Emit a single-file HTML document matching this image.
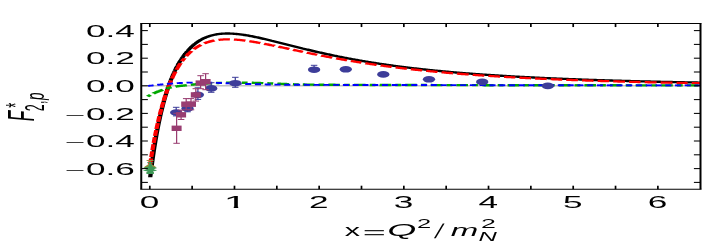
<!DOCTYPE html><html><head><meta charset="utf-8"><style>html,body{margin:0;padding:0;background:#fff}svg{display:block}</style></head><body><svg width="706" height="242" viewBox="0 0 706 242">
<rect width="706" height="242" fill="#fff"/>
<line x1="141.25" x2="700.5" y1="85.85" y2="85.85" stroke="#c2c2c2" stroke-width="1.5"/>
<g transform="scale(1.83,1)" fill="none" stroke-linejoin="round">
<path d="M82.09,177.27 L82.16,176.21 L82.23,175.16 L82.30,174.13 L82.37,173.10 L82.43,172.08 L82.50,171.08 L82.57,170.08 L82.64,169.09 L82.71,168.11 L82.78,167.13 L82.85,166.17 L82.92,165.22 L82.99,164.27 L83.05,163.33 L83.12,162.40 L83.19,161.48 L83.26,160.56 L83.33,159.66 L83.40,158.76 L83.47,157.87 L83.54,156.99 L83.61,156.11 L83.67,155.24 L83.74,154.38 L83.81,153.53 L83.88,152.68 L83.95,151.84 L84.02,151.01 L84.09,150.18 L84.16,149.37 L84.22,148.55 L84.29,147.75 L84.36,146.95 L84.43,146.16 L84.50,145.37 L84.57,144.59 L84.64,143.82 L84.71,143.05 L84.78,142.29 L84.84,141.54 L84.91,140.79 L84.98,140.05 L85.05,139.31 L85.12,138.58 L85.19,137.85 L85.26,137.14 L85.33,136.42 L85.40,135.71 L85.46,135.01 L85.53,134.31 L85.60,133.62 L85.67,132.93 L85.74,132.25 L85.81,131.58 L85.88,130.91 L85.95,130.24 L86.02,129.58 L86.08,128.92 L86.15,128.27 L86.22,127.63 L86.29,126.99 L86.36,126.35 L86.43,125.72 L86.50,125.09 L86.57,124.47 L86.64,123.85 L86.70,123.24 L86.77,122.63 L86.84,122.02 L86.91,121.43 L86.98,120.83 L87.05,120.24 L87.12,119.65 L87.19,119.07 L87.26,118.49 L87.32,117.92 L87.39,117.35 L87.46,116.78 L87.53,116.22 L87.60,115.66 L87.67,115.11 L87.74,114.56 L87.81,114.01 L87.87,113.47 L87.94,112.93 L88.01,112.40 L88.08,111.86 L88.15,111.34 L88.22,110.81 L88.29,110.29 L88.36,109.78 L88.43,109.26 L88.49,108.75 L88.56,108.25 L88.63,107.75 L88.70,107.25 L88.77,106.75 L88.84,106.26 L88.91,105.77 L88.98,105.29 L89.05,104.80 L89.11,104.33 L89.18,103.85 L89.25,103.38 L89.32,102.91 L89.39,102.44 L89.46,101.98 L89.53,101.52 L89.60,101.06 L89.67,100.61 L89.73,100.16 L89.80,99.71 L89.87,99.27 L89.94,98.83 L90.01,98.39 L90.08,97.95 L90.15,97.52 L90.22,97.09 L90.29,96.66 L90.35,96.24 L90.42,95.81 L90.49,95.39 L90.56,94.98 L90.63,94.56 L90.70,94.15 L90.77,93.75 L90.84,93.34 L90.90,92.94 L90.97,92.54 L91.04,92.14 L91.11,91.74 L91.18,91.35 L91.25,90.96 L91.32,90.57 L91.39,90.19 L91.46,89.81 L91.52,89.42 L91.59,89.05 L91.66,88.67 L91.73,88.30 L91.80,87.93 L91.87,87.56 L91.94,87.19 L92.01,86.83 L92.08,86.47 L92.14,86.11 L92.21,85.75 L92.28,85.40 L92.35,85.04 L92.42,84.69 L92.49,84.35 L92.56,84.00 L92.63,83.66 L92.70,83.31 L92.76,82.98 L92.83,82.64 L92.90,82.30 L92.97,81.97 L93.04,81.64 L93.11,81.31 L93.18,80.98 L93.25,80.66 L93.32,80.33 L93.38,80.01 L93.45,79.69 L93.52,79.38 L93.59,79.06 L93.66,78.75 L93.73,78.44 L93.80,78.13 L93.87,77.82 L93.93,77.51 L94.00,77.21 L94.07,76.91 L94.14,76.61 L94.21,76.31 L94.28,76.01 L94.35,75.72 L94.42,75.43 L94.49,75.14 L94.55,74.85 L94.62,74.56 L94.69,74.27 L94.76,73.99 L94.83,73.71 L94.90,73.43 L94.97,73.15 L95.04,72.87 L95.11,72.60 L95.17,72.32 L95.24,72.05 L95.31,71.78 L95.38,71.51 L95.45,71.24 L95.52,70.98 L95.59,70.71 L95.66,70.45 L95.73,70.19 L95.79,69.93 L95.86,69.67 L95.93,69.42 L96.00,69.16 L96.07,68.91 L96.14,68.66 L96.21,68.41 L96.28,68.16 L96.35,67.91 L96.41,67.66 L96.48,67.42 L96.55,67.18 L96.62,66.94 L96.69,66.70 L96.76,66.46 L96.83,66.22 L96.90,65.98 L96.96,65.75 L97.03,65.52 L97.10,65.29 L97.17,65.06 L97.24,64.83 L97.31,64.60 L97.38,64.37 L97.45,64.15 L97.52,63.93 L97.58,63.70 L97.65,63.48 L97.72,63.26 L97.79,63.05 L97.86,62.83 L97.93,62.61 L98.00,62.40 L98.07,62.19 L98.14,61.98 L98.20,61.77 L98.27,61.56 L98.34,61.35 L98.41,61.14 L98.48,60.94 L98.55,60.73 L98.62,60.53 L98.69,60.33 L98.76,60.13 L98.82,59.93 L98.89,59.73 L98.96,59.53 L99.03,59.34 L99.10,59.14 L99.17,58.95 L99.24,58.76 L99.31,58.57 L99.38,58.38 L99.44,58.19 L99.51,58.00 L99.58,57.81 L99.65,57.63 L99.72,57.44 L99.79,57.26 L99.86,57.08 L99.93,56.90 L100.00,56.72 L100.06,56.54 L100.13,56.36 L100.20,56.18 L100.27,56.01 L100.34,55.83 L100.41,55.66 L100.48,55.49 L100.55,55.31 L100.61,55.14 L100.68,54.97 L100.75,54.81 L100.82,54.64 L100.89,54.47 L100.96,54.31 L101.03,54.14 L101.10,53.98 L101.17,53.82 L101.23,53.66 L101.30,53.49 L101.37,53.34 L101.44,53.18 L101.51,53.02 L101.58,52.86 L101.65,52.71 L101.72,52.55 L101.79,52.40 L101.85,52.25 L101.92,52.09 L101.99,51.94 L102.06,51.79 L102.13,51.64 L102.20,51.49 L102.27,51.35 L102.34,51.20 L102.41,51.06 L102.47,50.91 L102.54,50.77 L102.61,50.62 L102.68,50.48 L102.75,50.34 L102.82,50.20 L102.89,50.06 L102.96,49.92 L103.03,49.78 L103.09,49.65 L103.16,49.51 L103.23,49.38 L103.30,49.24 L103.37,49.11 L103.44,48.98 L103.51,48.84 L103.58,48.71 L103.64,48.58 L103.71,48.45 L103.78,48.33 L103.85,48.20 L103.92,48.07 L103.99,47.94 L104.06,47.82 L104.13,47.69 L104.20,47.57 L104.26,47.45 L104.33,47.33 L104.40,47.20 L104.47,47.08 L104.54,46.96 L104.61,46.84 L104.68,46.73 L104.75,46.61 L104.82,46.49 L104.88,46.38 L104.95,46.26 L105.02,46.14 L105.09,46.03 L105.16,45.92 L105.23,45.81 L105.30,45.69 L105.37,45.58 L105.44,45.47 L105.50,45.36 L105.57,45.25 L105.64,45.15 L105.71,45.04 L105.78,44.93 L105.85,44.82 L105.92,44.72 L105.99,44.61 L106.06,44.51 L106.12,44.41 L106.19,44.30 L106.26,44.20 L106.33,44.10 L106.40,44.00 L106.47,43.90 L106.54,43.80 L106.61,43.70 L106.67,43.60 L106.74,43.51 L106.81,43.41 L106.88,43.31 L106.95,43.22 L107.02,43.12 L107.09,43.03 L107.16,42.94 L107.23,42.84 L107.29,42.75 L107.36,42.66 L107.43,42.57 L107.50,42.48 L107.57,42.39 L107.64,42.30 L107.71,42.21 L107.78,42.12 L107.85,42.04 L107.91,41.95 L107.98,41.86 L108.05,41.78 L108.12,41.69 L108.19,41.61 L108.26,41.52 L108.33,41.44 L108.40,41.36 L108.47,41.28 L108.53,41.19 L108.60,41.11 L108.67,41.03 L108.74,40.95 L108.81,40.87 L108.88,40.80 L108.95,40.72 L109.02,40.64 L109.09,40.56 L109.15,40.49 L109.22,40.41 L109.29,40.34 L109.36,40.26 L109.43,40.19 L109.50,40.11 L109.57,40.04 L110.11,39.48 L110.66,38.95 L111.21,38.45 L111.76,37.98 L112.30,37.54 L112.85,37.13 L113.40,36.75 L113.94,36.39 L114.49,36.06 L115.04,35.75 L115.59,35.47 L116.13,35.21 L116.68,34.97 L117.23,34.75 L117.77,34.55 L118.32,34.37 L118.87,34.21 L119.42,34.07 L119.96,33.95 L120.51,33.84 L121.06,33.75 L121.60,33.67 L122.15,33.61 L122.70,33.57 L123.25,33.53 L123.79,33.52 L124.34,33.51 L124.89,33.52 L125.43,33.54 L125.98,33.57 L126.53,33.61 L127.07,33.66 L127.62,33.73 L128.17,33.80 L128.72,33.88 L129.26,33.97 L129.81,34.08 L130.36,34.18 L130.90,34.30 L131.45,34.43 L132.00,34.56 L132.55,34.70 L133.09,34.84 L133.64,35.00 L134.19,35.15 L134.73,35.32 L135.28,35.49 L135.83,35.67 L136.38,35.85 L136.92,36.03 L137.47,36.22 L138.02,36.42 L138.56,36.62 L139.11,36.82 L139.66,37.03 L140.21,37.24 L140.75,37.45 L141.30,37.67 L141.85,37.89 L142.39,38.11 L142.94,38.34 L143.49,38.57 L144.04,38.80 L144.58,39.03 L145.13,39.27 L145.68,39.51 L146.22,39.74 L146.77,39.99 L147.32,40.23 L147.87,40.47 L148.41,40.72 L148.96,40.96 L149.51,41.21 L150.05,41.46 L150.60,41.71 L151.15,41.96 L151.70,42.21 L152.24,42.46 L152.79,42.71 L153.34,42.96 L153.88,43.22 L154.43,43.47 L154.98,43.72 L155.53,43.97 L156.07,44.23 L156.62,44.48 L157.17,44.73 L157.71,44.99 L158.26,45.24 L158.81,45.49 L159.35,45.74 L159.90,45.99 L160.45,46.24 L161.00,46.49 L161.54,46.74 L162.09,46.99 L162.64,47.24 L163.18,47.49 L163.73,47.74 L164.28,47.98 L164.83,48.23 L165.37,48.48 L165.92,48.72 L166.47,48.96 L167.01,49.20 L167.56,49.45 L168.11,49.69 L168.66,49.93 L169.20,50.16 L169.75,50.40 L170.30,50.64 L170.84,50.87 L171.39,51.11 L171.94,51.34 L172.49,51.57 L173.03,51.80 L173.58,52.03 L174.13,52.26 L174.67,52.49 L175.22,52.71 L175.77,52.94 L176.32,53.16 L176.86,53.38 L177.41,53.60 L177.96,53.82 L178.50,54.04 L179.05,54.26 L179.60,54.47 L180.15,54.69 L180.69,54.90 L181.24,55.11 L181.79,55.32 L182.33,55.53 L182.88,55.74 L183.43,55.95 L183.98,56.15 L184.52,56.36 L185.07,56.56 L185.62,56.76 L186.16,56.96 L186.71,57.16 L187.26,57.36 L187.81,57.55 L188.35,57.75 L188.90,57.94 L189.45,58.13 L189.99,58.32 L190.54,58.51 L191.09,58.70 L191.63,58.89 L192.18,59.08 L192.73,59.26 L193.28,59.44 L193.82,59.62 L194.37,59.80 L194.92,59.98 L195.46,60.16 L196.01,60.34 L196.56,60.51 L197.11,60.69 L197.65,60.86 L198.20,61.03 L198.75,61.20 L199.29,61.37 L199.84,61.54 L200.39,61.71 L200.94,61.87 L201.48,62.04 L202.03,62.20 L202.58,62.36 L203.12,62.52 L203.67,62.68 L204.22,62.84 L204.77,63.00 L205.31,63.15 L205.86,63.31 L206.41,63.46 L206.95,63.61 L207.50,63.76 L208.05,63.91 L208.60,64.06 L209.14,64.21 L209.69,64.36 L210.24,64.50 L210.78,64.65 L211.33,64.79 L211.88,64.93 L212.43,65.08 L212.97,65.22 L213.52,65.35 L214.07,65.49 L214.61,65.63 L215.16,65.77 L215.71,65.90 L216.26,66.04 L216.80,66.17 L217.35,66.30 L217.90,66.43 L218.44,66.56 L218.99,66.69 L219.54,66.82 L220.09,66.95 L220.63,67.07 L221.18,67.20 L221.73,67.32 L222.27,67.44 L222.82,67.57 L223.37,67.69 L223.91,67.81 L224.46,67.93 L225.01,68.05 L225.56,68.16 L226.10,68.28 L226.65,68.40 L227.20,68.51 L227.74,68.63 L228.29,68.74 L228.84,68.85 L229.39,68.96 L229.93,69.07 L230.48,69.18 L231.03,69.29 L231.57,69.40 L232.12,69.51 L232.67,69.62 L233.22,69.72 L233.76,69.83 L234.31,69.93 L234.86,70.04 L235.40,70.14 L235.95,70.24 L236.50,70.34 L237.05,70.44 L237.59,70.54 L238.14,70.64 L238.69,70.74 L239.23,70.84 L239.78,70.93 L240.33,71.03 L240.88,71.12 L241.42,71.22 L241.97,71.31 L242.52,71.41 L243.06,71.50 L243.61,71.59 L244.16,71.68 L244.71,71.77 L245.25,71.86 L245.80,71.95 L246.35,72.04 L246.89,72.13 L247.44,72.21 L247.99,72.30 L248.54,72.39 L249.08,72.47 L249.63,72.55 L250.18,72.64 L250.72,72.72 L251.27,72.80 L251.82,72.89 L252.37,72.97 L252.91,73.05 L253.46,73.13 L254.01,73.21 L254.55,73.29 L255.10,73.37 L255.65,73.45 L256.19,73.52 L256.74,73.60 L257.29,73.68 L257.84,73.75 L258.38,73.83 L258.93,73.90 L259.48,73.98 L260.02,74.05 L260.57,74.12 L261.12,74.19 L261.67,74.27 L262.21,74.34 L262.76,74.41 L263.31,74.48 L263.85,74.55 L264.40,74.62 L264.95,74.69 L265.50,74.76 L266.04,74.82 L266.59,74.89 L267.14,74.96 L267.68,75.03 L268.23,75.09 L268.78,75.16 L269.33,75.22 L269.87,75.29 L270.42,75.35 L270.97,75.41 L271.51,75.48 L272.06,75.54 L272.61,75.60 L273.16,75.67 L273.70,75.73 L274.25,75.79 L274.80,75.85 L275.34,75.91 L275.89,75.97 L276.44,76.03 L276.99,76.09 L277.53,76.15 L278.08,76.20 L278.63,76.26 L279.17,76.32 L279.72,76.38 L280.27,76.43 L280.82,76.49 L281.36,76.55 L281.91,76.60 L282.46,76.66 L283.00,76.71 L283.55,76.76 L284.10,76.82 L284.65,76.87 L285.19,76.93 L285.74,76.98 L286.29,77.03 L286.83,77.08 L287.38,77.13 L287.93,77.19 L288.47,77.24 L289.02,77.29 L289.57,77.34 L290.12,77.39 L290.66,77.44 L291.21,77.49 L291.76,77.54 L292.30,77.59 L292.85,77.63 L293.40,77.68 L293.95,77.73 L294.49,77.78 L295.04,77.82 L295.59,77.87 L296.13,77.92 L296.68,77.96 L297.23,78.01 L297.78,78.06 L298.32,78.10 L298.87,78.15 L299.42,78.19 L299.96,78.24 L300.51,78.28 L301.06,78.32 L301.61,78.37 L302.15,78.41 L302.70,78.45 L303.25,78.50 L303.79,78.54 L304.34,78.58 L304.89,78.62 L305.44,78.66 L305.98,78.70 L306.53,78.75 L307.08,78.79 L307.62,78.83 L308.17,78.87 L308.72,78.91 L309.27,78.95 L309.81,78.99 L310.36,79.03 L310.91,79.07 L311.45,79.10 L312.00,79.14 L312.55,79.18 L313.10,79.22 L313.64,79.26 L314.19,79.29 L314.74,79.33 L315.28,79.37 L315.83,79.41 L316.38,79.44 L316.93,79.48 L317.47,79.51 L318.02,79.55 L318.57,79.59 L319.11,79.62 L319.66,79.66 L320.21,79.69 L320.75,79.73 L321.30,79.76 L321.85,79.80 L322.40,79.83 L322.94,79.86 L323.49,79.90 L324.04,79.93 L324.58,79.96 L325.13,80.00 L325.68,80.03 L326.23,80.06 L326.77,80.10 L327.32,80.13 L327.87,80.16 L328.41,80.19 L328.96,80.22 L329.51,80.26 L330.06,80.29 L330.60,80.32 L331.15,80.35 L331.70,80.38 L332.24,80.41 L332.79,80.44 L333.34,80.47 L333.89,80.50 L334.43,80.53 L334.98,80.56 L335.53,80.59 L336.07,80.62 L336.62,80.65 L337.17,80.68 L337.72,80.71 L338.26,80.73 L338.81,80.76 L339.36,80.79 L339.90,80.82 L340.45,80.85 L341.00,80.88 L341.55,80.90 L342.09,80.93 L342.64,80.96 L343.19,80.98 L343.73,81.01 L344.28,81.04 L344.83,81.07 L345.38,81.09 L345.92,81.12 L346.47,81.14 L347.02,81.17 L347.56,81.20 L348.11,81.22 L348.66,81.25 L349.21,81.27 L349.75,81.30 L350.30,81.32 L350.85,81.35 L351.39,81.37 L351.94,81.40 L352.49,81.42 L353.03,81.45 L353.58,81.47 L354.13,81.50 L354.68,81.52 L355.22,81.54 L355.77,81.57 L356.32,81.59 L356.86,81.61 L357.41,81.64 L357.96,81.66 L358.51,81.68 L359.05,81.71 L359.60,81.73 L360.15,81.75 L360.69,81.78 L361.24,81.80 L361.79,81.82 L362.34,81.84 L362.88,81.86 L363.43,81.89 L363.98,81.91 L364.52,81.93 L365.07,81.95 L365.62,81.97 L366.17,81.99 L366.71,82.02 L367.26,82.04 L367.81,82.06 L368.35,82.08 L368.90,82.10 L369.45,82.12 L370.00,82.14 L370.54,82.16 L371.09,82.18 L371.64,82.20 L372.18,82.22 L372.73,82.24 L373.28,82.26 L373.83,82.28 L374.37,82.30 L374.92,82.32 L375.47,82.34 L376.01,82.36 L376.56,82.38 L377.11,82.40 L377.66,82.42 L378.20,82.43 L378.75,82.45 L379.30,82.47 L379.84,82.49 L380.39,82.51 L380.94,82.53 L381.48,82.55 L382.03,82.56 L382.58,82.58" stroke="#000" stroke-width="2.35"/>
<path d="M82.06,164.23 L82.13,163.46 L82.20,162.63 L82.26,161.80 L82.33,160.98 L82.40,160.16 L82.47,159.35 L82.54,158.55 L82.55,158.40" stroke="#ff0000" stroke-width="2.3"/>
<path d="M82.66,157.16 L82.68,156.96 L82.75,156.17 L82.82,155.39 L82.89,154.62 L82.96,153.85 L83.03,153.08 L83.09,152.33 L83.16,151.57 L83.19,151.33" stroke="#ff0000" stroke-width="2.3"/>
<path d="M83.30,150.09 L83.30,150.08 L83.37,149.34 L83.44,148.61 L83.51,147.89 L83.58,147.16 L83.65,146.45 L83.72,145.73 L83.79,145.03 L83.85,144.33 L83.86,144.26" stroke="#ff0000" stroke-width="2.3"/>
<path d="M83.98,143.02 L83.99,142.94 L84.06,142.25 L84.13,141.57 L84.20,140.89 L84.27,140.22 L84.34,139.55 L84.41,138.88 L84.48,138.22 L84.55,137.57 L84.59,137.20" stroke="#ff0000" stroke-width="2.3"/>
<path d="M84.72,135.96 L84.75,135.63 L84.82,134.99 L84.89,134.36 L84.96,133.73 L85.03,133.11 L85.10,132.49 L85.17,131.87 L85.24,131.26 L85.31,130.65 L85.36,130.14" stroke="#ff0000" stroke-width="2.3"/>
<path d="M85.51,128.90 L85.51,128.86 L85.58,128.26 L85.65,127.68 L85.72,127.09 L85.79,126.51 L85.86,125.94 L85.93,125.37 L86.00,124.80 L86.07,124.23 L86.14,123.67 L86.20,123.12 L86.21,123.09" stroke="#ff0000" stroke-width="2.3"/>
<path d="M86.36,121.85 L86.41,121.47 L86.48,120.93 L86.55,120.39 L86.62,119.85 L86.69,119.32 L86.76,118.79 L86.83,118.27 L86.90,117.75 L86.97,117.23 L87.03,116.71 L87.10,116.20 L87.12,116.05" stroke="#ff0000" stroke-width="2.3"/>
<path d="M87.29,114.81 L87.31,114.69 L87.38,114.19 L87.45,113.69 L87.52,113.20 L87.59,112.71 L87.66,112.23 L87.73,111.75 L87.79,111.27 L87.86,110.79 L87.93,110.32 L88.00,109.85 L88.07,109.38 L88.12,109.02" stroke="#ff0000" stroke-width="2.3"/>
<path d="M88.31,107.79 L88.35,107.54 L88.42,107.09 L88.49,106.64 L88.55,106.19 L88.62,105.75 L88.69,105.31 L88.76,104.87 L88.83,104.43 L88.90,104.00 L88.97,103.57 L89.04,103.14 L89.11,102.72 L89.18,102.30 L89.22,102.01" stroke="#ff0000" stroke-width="2.3"/>
<path d="M89.43,100.78 L89.45,100.63 L89.52,100.23 L89.59,99.82 L89.66,99.42 L89.73,99.01 L89.80,98.62 L89.87,98.22 L89.94,97.83 L90.01,97.43 L90.08,97.05 L90.14,96.66 L90.21,96.27 L90.28,95.89 L90.35,95.51 L90.42,95.14 L90.44,95.01" stroke="#ff0000" stroke-width="2.3"/>
<path d="M90.67,93.79 L90.70,93.65 L90.77,93.29 L90.84,92.92 L90.90,92.56 L90.97,92.20 L91.04,91.85 L91.11,91.49 L91.18,91.14 L91.25,90.79 L91.32,90.44 L91.39,90.10 L91.46,89.75 L91.53,89.41 L91.57,89.18" stroke="#ff0000" stroke-width="2.3"/>
<path d="M91.98,87.22 L92.01,87.08 L92.08,86.75 L92.15,86.43 L92.22,86.11 L92.29,85.79 L92.36,85.47 L92.43,85.16 L92.49,84.84 L92.56,84.53 L92.63,84.22 L92.70,83.91 L92.77,83.61 L92.84,83.30 L92.91,83.00 L92.98,82.70 L93.05,82.40 L93.12,82.10 L93.19,81.81 L93.25,81.52 L93.32,81.22 L93.39,80.93 L93.46,80.65 L93.53,80.37" stroke="#ff0000" stroke-width="2.3"/>
<path d="M94.01,78.43 L94.02,78.41 L94.08,78.13 L94.15,77.86 L94.22,77.59 L94.29,77.32 L94.36,77.06 L94.43,76.79 L94.50,76.53 L94.57,76.27 L94.64,76.01 L94.71,75.75 L94.78,75.49 L94.84,75.24 L94.91,74.99 L94.98,74.73 L95.05,74.48 L95.12,74.23 L95.19,73.99 L95.26,73.74 L95.33,73.50 L95.40,73.25 L95.47,73.01 L95.54,72.77 L95.60,72.53 L95.67,72.30 L95.74,72.06 L95.81,71.82 L95.86,71.66" stroke="#ff0000" stroke-width="2.3"/>
<path d="M96.44,69.74 L96.50,69.56 L96.57,69.34 L96.64,69.12 L96.71,68.90 L96.78,68.69 L96.85,68.47 L96.92,68.26 L96.99,68.05 L97.06,67.84 L97.13,67.63 L97.19,67.42 L97.26,67.21 L97.33,67.01 L97.40,66.81 L97.47,66.60 L97.54,66.40 L97.61,66.20 L97.68,66.00 L97.75,65.80 L97.82,65.61 L97.89,65.41 L97.96,65.22 L98.02,65.02 L98.09,64.83 L98.16,64.64 L98.23,64.45 L98.30,64.26 L98.37,64.08 L98.44,63.89 L98.51,63.70 L98.58,63.52 L98.65,63.34 L98.72,63.15 L98.72,63.13" stroke="#ff0000" stroke-width="2.3"/>
<path d="M99.46,61.27 L99.48,61.23 L99.54,61.06 L99.61,60.89 L99.68,60.72 L99.75,60.56 L99.82,60.39 L99.89,60.23 L99.96,60.07 L100.03,59.90 L100.10,59.74 L100.17,59.58 L100.24,59.42 L100.31,59.27 L100.37,59.11 L100.44,58.95 L100.51,58.80 L100.58,58.64 L100.65,58.49 L100.72,58.34 L100.79,58.19 L100.79,58.18" stroke="#ff0000" stroke-width="2.3"/>
<path d="M101.74,56.20 L101.76,56.17 L101.83,56.03 L101.89,55.89 L101.96,55.75 L102.03,55.62 L102.10,55.49 L102.17,55.35 L102.24,55.22 L102.31,55.09 L102.38,54.96 L102.45,54.83 L102.52,54.70 L102.59,54.57 L102.66,54.44 L102.72,54.31 L102.79,54.19 L102.86,54.06 L102.93,53.94 L103.00,53.81 L103.07,53.69 L103.14,53.57 L103.21,53.45 L103.28,53.33 L103.35,53.21 L103.42,53.09 L103.48,52.97 L103.55,52.85 L103.62,52.73 L103.69,52.62 L103.76,52.50 L103.83,52.39 L103.90,52.28 L103.97,52.16 L104.04,52.05 L104.11,51.94 L104.18,51.83 L104.24,51.72 L104.31,51.61 L104.38,51.50 L104.45,51.39 L104.52,51.28 L104.59,51.18 L104.66,51.07 L104.68,51.03" stroke="#ff0000" stroke-width="2.3"/>
<path d="M105.94,49.23 L105.97,49.18 L106.04,49.09 L106.11,49.00 L106.18,48.91 L106.25,48.82 L106.32,48.73 L106.39,48.64 L106.46,48.55 L106.53,48.46 L106.60,48.37 L106.66,48.28 L106.73,48.20 L106.80,48.11 L106.87,48.03 L106.94,47.94 L107.01,47.86 L107.08,47.77 L107.15,47.69 L107.22,47.61 L107.29,47.53 L107.36,47.44 L107.42,47.36 L107.49,47.28 L107.56,47.20 L107.63,47.12 L107.70,47.05 L107.77,46.97 L107.84,46.89 L107.91,46.81 L107.98,46.74 L108.05,46.66 L108.12,46.59 L108.18,46.51 L108.25,46.44 L108.32,46.36 L108.39,46.29 L108.46,46.22 L108.53,46.14 L108.60,46.07 L108.67,46.00 L108.74,45.93 L108.81,45.86 L108.88,45.79 L108.95,45.72 L109.01,45.65 L109.08,45.59 L109.15,45.52 L109.22,45.45 L109.29,45.38 L109.36,45.32 L109.43,45.25 L109.50,45.19 L109.57,45.12 L109.93,44.80" stroke="#ff0000" stroke-width="2.3"/>
<path d="M111.63,43.41 L111.76,43.32 L112.30,42.93 L112.85,42.57 L113.40,42.24 L113.94,41.92 L114.49,41.63 L115.04,41.36 L115.59,41.11 L116.13,40.88 L116.68,40.67 L117.23,40.48 L117.25,40.47" stroke="#ff0000" stroke-width="2.3"/>
<path d="M119.37,39.89 L119.42,39.88 L119.96,39.77 L120.51,39.68 L121.06,39.60 L121.60,39.53 L122.15,39.47 L122.70,39.43 L123.25,39.40 L123.79,39.38 L124.34,39.37 L124.89,39.37 L125.43,39.38 L125.62,39.39" stroke="#ff0000" stroke-width="2.3"/>
<path d="M127.82,39.55 L128.17,39.58 L128.72,39.65 L129.26,39.72 L129.81,39.80 L130.36,39.89 L130.90,39.98 L131.45,40.08 L132.00,40.19 L132.55,40.30 L133.09,40.42 L133.64,40.55 L134.12,40.66" stroke="#ff0000" stroke-width="2.3"/>
<path d="M136.25,41.21 L136.38,41.24 L136.92,41.39 L137.47,41.55 L138.02,41.71 L138.56,41.87 L139.11,42.04 L139.66,42.21 L140.21,42.38 L140.75,42.56 L141.30,42.74 L141.85,42.92 L142.24,43.05" stroke="#ff0000" stroke-width="2.3"/>
<path d="M144.32,43.77 L144.58,43.86 L145.13,44.05 L145.68,44.25 L146.22,44.45 L146.77,44.65 L147.32,44.85 L147.87,45.05 L148.41,45.26 L148.96,45.46 L149.51,45.67 L150.05,45.87 L150.06,45.88" stroke="#ff0000" stroke-width="2.3"/>
<path d="M152.12,46.66 L152.24,46.71 L152.79,46.92 L153.34,47.13 L153.88,47.34 L154.43,47.55 L154.98,47.77 L155.53,47.98 L156.07,48.19 L156.62,48.40 L157.17,48.62 L157.71,48.83 L158.10,48.98" stroke="#ff0000" stroke-width="2.3"/>
<path d="M160.15,49.78 L160.45,49.90 L161.00,50.11 L161.54,50.32 L162.09,50.53 L162.64,50.74 L163.18,50.95 L163.73,51.17 L164.28,51.38 L164.83,51.59 L165.37,51.79 L165.56,51.87" stroke="#ff0000" stroke-width="2.3"/>
<path d="M167.66,52.67 L168.11,52.83 L168.66,53.04 L169.20,53.24 L169.75,53.45 L170.30,53.65 L170.84,53.85 L171.39,54.06 L171.94,54.26 L172.49,54.46 L173.03,54.66 L173.37,54.78" stroke="#ff0000" stroke-width="2.3"/>
<path d="M175.49,55.54 L175.77,55.65 L176.32,55.84 L176.86,56.03 L177.41,56.23 L177.96,56.42 L178.50,56.61 L179.05,56.80 L179.60,56.99 L180.15,57.18 L180.69,57.37 L181.24,57.55 L181.56,57.66" stroke="#ff0000" stroke-width="2.3"/>
<path d="M183.69,58.38 L183.98,58.47 L184.52,58.65 L185.07,58.83 L185.62,59.01 L186.16,59.19 L186.71,59.36 L187.26,59.54 L187.81,59.71 L188.35,59.89 L188.90,60.06 L189.45,60.23 L189.64,60.29" stroke="#ff0000" stroke-width="2.3"/>
<path d="M191.79,60.95 L192.18,61.07 L192.73,61.24 L193.28,61.40 L193.82,61.57 L194.37,61.73 L194.92,61.89 L195.46,62.05 L196.01,62.21 L196.56,62.37 L197.11,62.53 L197.50,62.64" stroke="#ff0000" stroke-width="2.3"/>
<path d="M199.66,63.25 L199.84,63.30 L200.39,63.45 L200.94,63.60 L201.48,63.75 L202.03,63.90 L202.58,64.05 L203.12,64.19 L203.67,64.34 L204.22,64.48 L204.77,64.63 L205.31,64.77 L205.85,64.91" stroke="#ff0000" stroke-width="2.3"/>
<path d="M208.03,65.46 L208.05,65.47 L208.60,65.61 L209.14,65.74 L209.69,65.88 L210.24,66.01 L210.78,66.15 L211.33,66.28 L211.88,66.41 L212.43,66.54 L212.97,66.67 L213.52,66.80 L214.04,66.92" stroke="#ff0000" stroke-width="2.3"/>
<path d="M216.23,67.43 L216.26,67.43 L216.80,67.55 L217.35,67.68 L217.90,67.80 L218.44,67.92 L218.99,68.04 L219.54,68.16 L220.09,68.28 L220.63,68.40 L221.18,68.51 L221.73,68.63 L222.27,68.75 L222.34,68.76" stroke="#ff0000" stroke-width="2.3"/>
<path d="M224.54,69.22 L225.01,69.31 L225.56,69.42 L226.10,69.53 L226.65,69.64 L227.20,69.75 L227.74,69.86 L228.29,69.96 L228.84,70.07 L229.39,70.18 L229.93,70.28 L230.48,70.38 L230.70,70.42" stroke="#ff0000" stroke-width="2.3"/>
<path d="M232.91,70.84 L233.22,70.89 L233.76,70.99 L234.31,71.09 L234.86,71.19 L235.40,71.29 L235.95,71.38 L236.50,71.48 L237.05,71.58 L237.59,71.67 L238.14,71.76 L238.69,71.86 L239.11,71.93" stroke="#ff0000" stroke-width="2.3"/>
<path d="M241.33,72.30 L241.42,72.31 L241.97,72.40 L242.52,72.49 L243.06,72.58 L243.61,72.67 L244.16,72.76 L244.71,72.84 L245.25,72.93 L245.80,73.01 L246.35,73.10 L246.89,73.18 L247.44,73.27 L247.47,73.27" stroke="#ff0000" stroke-width="2.3"/>
<path d="M249.69,73.60 L250.18,73.67 L250.72,73.75 L251.27,73.83 L251.82,73.91 L252.37,73.99 L252.91,74.07 L253.46,74.15 L254.01,74.22 L254.55,74.30 L255.10,74.37 L255.65,74.45 L256.10,74.51" stroke="#ff0000" stroke-width="2.3"/>
<path d="M258.33,74.81 L258.38,74.82 L258.93,74.89 L259.48,74.96 L260.02,75.03 L260.57,75.10 L261.12,75.17 L261.67,75.24 L262.21,75.31 L262.76,75.38 L263.31,75.45 L263.85,75.52 L264.40,75.58 L264.68,75.62" stroke="#ff0000" stroke-width="2.3"/>
<path d="M266.91,75.88 L267.14,75.91 L267.68,75.98 L268.23,76.04 L268.78,76.10 L269.33,76.17 L269.87,76.23 L270.42,76.29 L270.97,76.35 L271.51,76.41 L272.06,76.48 L272.61,76.54 L273.16,76.60 L273.20,76.60" stroke="#ff0000" stroke-width="2.3"/>
<path d="M275.44,76.84 L275.89,76.89 L276.44,76.95 L276.99,77.01 L277.53,77.06 L278.08,77.12 L278.63,77.17 L279.17,77.23 L279.72,77.29 L280.27,77.34 L280.82,77.40 L281.36,77.45 L281.61,77.47" stroke="#ff0000" stroke-width="2.3"/>
<path d="M283.85,77.69 L284.10,77.72 L284.65,77.77 L285.19,77.82 L285.74,77.87 L286.29,77.92 L286.83,77.97 L287.38,78.02 L287.93,78.07 L288.47,78.12 L289.02,78.17 L289.57,78.22 L290.12,78.27 L290.14,78.27" stroke="#ff0000" stroke-width="2.3"/>
<path d="M292.38,78.47 L292.85,78.51 L293.40,78.55 L293.95,78.60 L294.49,78.65 L295.04,78.69 L295.59,78.74 L296.13,78.78 L296.68,78.83 L297.23,78.87 L297.78,78.92 L298.32,78.96 L298.71,78.99" stroke="#ff0000" stroke-width="2.3"/>
<path d="M300.96,79.17 L301.06,79.18 L301.61,79.22 L302.15,79.26 L302.70,79.30 L303.25,79.34 L303.79,79.39 L304.34,79.43 L304.89,79.47 L305.44,79.51 L305.98,79.55 L306.53,79.59 L307.08,79.63 L307.24,79.64" stroke="#ff0000" stroke-width="2.3"/>
<path d="M309.48,79.80 L309.81,79.82 L310.36,79.86 L310.91,79.90 L311.45,79.93 L312.00,79.97 L312.55,80.01 L313.10,80.04 L313.64,80.08 L314.19,80.12 L314.74,80.15 L315.28,80.19 L315.82,80.22" stroke="#ff0000" stroke-width="2.3"/>
<path d="M318.06,80.37 L318.57,80.40 L319.11,80.43 L319.66,80.47 L320.21,80.50 L320.75,80.54 L321.30,80.57 L321.85,80.60 L322.40,80.64 L322.94,80.67 L323.49,80.70 L324.04,80.73 L324.34,80.75" stroke="#ff0000" stroke-width="2.3"/>
<path d="M326.59,80.88 L326.77,80.89 L327.32,80.92 L327.87,80.95 L328.41,80.98 L328.96,81.02 L329.51,81.05 L330.06,81.08 L330.60,81.11 L331.15,81.14 L331.70,81.17 L332.24,81.19 L332.79,81.22 L332.87,81.23" stroke="#ff0000" stroke-width="2.3"/>
<path d="M335.11,81.35 L335.53,81.37 L336.07,81.40 L336.62,81.42 L337.17,81.45 L337.72,81.48 L338.26,81.51 L338.81,81.53 L339.36,81.56 L339.90,81.59 L340.45,81.61 L341.00,81.64 L341.55,81.67 L341.55,81.67" stroke="#ff0000" stroke-width="2.3"/>
<path d="M343.80,81.77 L344.28,81.80 L344.83,81.82 L345.38,81.85 L345.92,81.87 L346.47,81.90 L347.02,81.92 L347.56,81.95 L348.11,81.97 L348.66,82.00 L349.21,82.02 L349.75,82.04 L350.02,82.06" stroke="#ff0000" stroke-width="2.3"/>
<path d="M352.27,82.15 L352.49,82.16 L353.03,82.19 L353.58,82.21 L354.13,82.23 L354.68,82.25 L355.22,82.28 L355.77,82.30 L356.32,82.32 L356.86,82.34 L357.41,82.37 L357.96,82.39 L358.51,82.41 L358.77,82.42" stroke="#ff0000" stroke-width="2.3"/>
<path d="M361.01,82.51 L361.24,82.52 L361.79,82.54 L362.34,82.56 L362.88,82.58 L363.43,82.60 L363.98,82.62 L364.52,82.64 L365.07,82.66 L365.62,82.68 L366.17,82.70 L366.71,82.72 L367.26,82.74 L367.45,82.75" stroke="#ff0000" stroke-width="2.3"/>
<path d="M369.70,82.83 L370.00,82.84 L370.54,82.86 L371.09,82.88 L371.64,82.90 L372.18,82.92 L372.73,82.93 L373.28,82.95 L373.83,82.97 L374.37,82.99 L374.92,83.01 L375.47,83.03 L375.76,83.04" stroke="#ff0000" stroke-width="2.3"/>
<path d="M378.01,83.11 L378.20,83.11 L378.75,83.13 L379.30,83.15 L379.84,83.17 L380.39,83.18 L380.94,83.20 L381.48,83.22 L382.03,83.23 L382.58,83.25" stroke="#ff0000" stroke-width="2.3"/>
<path d="M80.66,96.50 L80.89,96.25 L81.13,96.00 L81.37,95.76 L81.61,95.52 L81.85,95.28 L82.10,95.04 L82.19,94.96" stroke="#00a800" stroke-width="2.4"/>
<path d="M83.86,93.47 L83.87,93.45 L84.13,93.24 L84.39,93.02 L84.65,92.81 L84.92,92.60 L85.18,92.39 L85.45,92.18 L85.72,91.98 L86.00,91.78 L86.27,91.59 L86.55,91.39 L86.83,91.20 L87.12,91.02 L87.40,90.83 L87.69,90.64 L87.98,90.46 L88.26,90.28 L88.55,90.10 L88.84,89.92 L89.02,89.80" stroke="#00a800" stroke-width="2.4"/>
<path d="M90.90,88.59 L91.14,88.44 L91.44,88.27 L91.73,88.10 L92.03,87.94 L92.33,87.78 L92.63,87.64 L92.94,87.51 L93.25,87.39 L93.57,87.27 L93.75,87.21" stroke="#00a800" stroke-width="2.4"/>
<path d="M95.89,86.55 L96.18,86.47 L96.51,86.38 L96.83,86.30 L97.16,86.22 L97.49,86.14 L97.82,86.07 L98.15,85.99 L98.49,85.92 L98.82,85.86 L99.15,85.79 L99.49,85.73 L99.82,85.66 L100.16,85.60 L100.49,85.54 L100.82,85.47 L101.16,85.41 L101.49,85.35 L101.83,85.28 L102.09,85.23" stroke="#00a800" stroke-width="2.4"/>
<path d="M104.28,84.78 L104.49,84.73 L104.82,84.67 L105.16,84.60 L105.49,84.54 L105.82,84.48 L106.16,84.42 L106.49,84.37 L106.83,84.31 L107.16,84.26 L107.40,84.22" stroke="#00a800" stroke-width="2.4"/>
<path d="M109.61,83.89 L109.85,83.86 L110.19,83.81 L110.53,83.77 L110.86,83.72 L111.20,83.68 L111.54,83.64 L111.88,83.59 L112.21,83.55 L112.55,83.52 L112.89,83.48 L113.23,83.44 L113.56,83.41 L113.90,83.38 L114.24,83.34 L114.58,83.31 L114.92,83.29 L115.25,83.26 L115.59,83.23 L115.92,83.20" stroke="#00a800" stroke-width="2.4"/>
<path d="M118.15,83.03 L118.30,83.02 L118.64,83.00 L118.98,82.97 L119.32,82.95 L119.66,82.93 L120.00,82.91 L120.34,82.89 L120.68,82.88 L121.02,82.86 L121.31,82.85" stroke="#00a800" stroke-width="2.4"/>
<path d="M123.55,82.79 L123.73,82.79 L124.07,82.78 L124.41,82.78 L124.75,82.77 L125.09,82.77 L125.43,82.76 L125.77,82.76 L126.11,82.75 L126.45,82.75 L126.79,82.75 L127.13,82.74 L127.47,82.74 L127.81,82.73 L128.15,82.73 L128.49,82.73 L128.83,82.72 L129.17,82.72 L129.51,82.72 L129.85,82.72 L129.89,82.72" stroke="#00a800" stroke-width="2.4"/>
<path d="M132.13,82.70 L132.23,82.70 L132.57,82.70 L132.91,82.70 L133.24,82.70 L133.58,82.70 L133.92,82.70 L134.26,82.70 L134.60,82.70 L134.94,82.71 L135.28,82.71 L135.30,82.71" stroke="#00a800" stroke-width="2.4"/>
<path d="M137.54,82.78 L137.66,82.79 L138.00,82.80 L138.34,82.82 L138.68,82.84 L139.02,82.86 L139.35,82.87 L139.69,82.89 L140.03,82.91 L140.37,82.93 L140.71,82.95 L141.05,82.97 L141.39,82.99 L141.73,83.01 L142.07,83.03 L142.41,83.06 L142.75,83.08 L143.09,83.10 L143.43,83.12 L143.77,83.14 L143.87,83.15" stroke="#00a800" stroke-width="2.4"/>
<path d="M146.10,83.28 L146.14,83.28 L146.48,83.30 L146.82,83.33 L147.15,83.35 L147.49,83.37 L147.83,83.40 L148.17,83.42 L148.51,83.45 L148.85,83.48 L149.19,83.50 L149.27,83.51" stroke="#00a800" stroke-width="2.4"/>
<path d="M151.50,83.68 L151.56,83.69 L151.90,83.72 L152.24,83.74 L152.57,83.77 L152.91,83.79 L153.25,83.82 L153.59,83.85 L153.93,83.87 L154.27,83.90 L154.61,83.92 L154.95,83.95 L155.28,83.97 L155.62,83.99 L155.96,84.01 L156.30,84.04 L156.64,84.06 L156.98,84.09 L157.32,84.11 L157.66,84.13 L157.82,84.15" stroke="#00a800" stroke-width="2.4"/>
<path d="M160.06,84.30 L160.37,84.32 L160.71,84.34 L161.05,84.36 L161.39,84.39 L161.73,84.40 L162.06,84.42 L162.40,84.44 L162.74,84.46 L163.08,84.47 L163.22,84.48" stroke="#00a800" stroke-width="2.4"/>
<path d="M165.46,84.54 L165.80,84.55 L166.14,84.56 L166.48,84.57 L166.82,84.58 L167.15,84.59 L167.49,84.60 L167.83,84.60 L168.17,84.61 L168.51,84.62 L168.85,84.63 L169.19,84.64 L169.53,84.64 L169.87,84.65 L170.21,84.66 L170.55,84.66 L170.89,84.67 L171.23,84.68 L171.57,84.68 L171.80,84.69" stroke="#00a800" stroke-width="2.4"/>
<path d="M174.04,84.72 L174.29,84.73 L174.63,84.73 L174.97,84.74 L175.31,84.74 L175.65,84.75 L175.99,84.75 L176.33,84.76 L176.67,84.76 L177.01,84.77 L177.21,84.77" stroke="#00a800" stroke-width="2.4"/>
<path d="M179.45,84.79 L179.72,84.79 L180.06,84.80 L180.40,84.80 L180.74,84.80 L181.08,84.81 L181.42,84.81 L181.76,84.81 L182.10,84.82 L182.44,84.82 L182.78,84.82 L183.12,84.82 L183.46,84.83 L183.80,84.83 L184.14,84.83 L184.48,84.83 L184.82,84.84 L185.16,84.84 L185.50,84.84 L185.79,84.84" stroke="#00a800" stroke-width="2.4"/>
<path d="M188.03,84.86 L188.21,84.86 L188.55,84.86 L188.89,84.86 L189.23,84.87 L189.57,84.87 L189.91,84.87 L190.25,84.87 L190.59,84.87 L190.93,84.88 L191.20,84.88" stroke="#00a800" stroke-width="2.4"/>
<path d="M193.44,84.89 L193.65,84.89 L193.99,84.89 L194.33,84.90 L194.67,84.90 L195.01,84.90 L195.35,84.90 L195.69,84.90 L196.03,84.90 L196.37,84.91 L196.71,84.91 L197.05,84.91 L197.39,84.91 L197.73,84.91 L198.07,84.91 L198.40,84.92 L198.74,84.92 L199.08,84.92 L199.42,84.92 L199.76,84.92 L199.77,84.92" stroke="#00a800" stroke-width="2.4"/>
<path d="M202.01,84.93 L202.14,84.93 L202.48,84.93 L202.82,84.94 L203.16,84.94 L203.50,84.94 L203.84,84.94 L204.18,84.94 L204.52,84.94 L204.86,84.94 L205.18,84.95" stroke="#00a800" stroke-width="2.4"/>
<path d="M207.42,84.95 L207.58,84.96 L207.92,84.96 L208.26,84.96 L208.60,84.96 L208.94,84.96 L209.27,84.96 L209.61,84.96 L209.95,84.96 L210.29,84.97 L210.63,84.97 L210.97,84.97 L211.31,84.97 L211.65,84.97 L211.99,84.97 L212.33,84.97 L212.67,84.98 L213.01,84.98 L213.35,84.98 L213.69,84.98 L213.76,84.98" stroke="#00a800" stroke-width="2.4"/>
<path d="M216.00,84.99 L216.07,84.99 L216.41,84.99 L216.75,84.99 L217.09,84.99 L217.43,85.00 L217.77,85.00 L218.11,85.00 L218.45,85.00 L218.79,85.00 L219.13,85.00 L219.17,85.00" stroke="#00a800" stroke-width="2.4"/>
<path d="M221.41,85.01 L221.50,85.01 L221.84,85.01 L222.18,85.02 L222.52,85.02 L222.86,85.02 L223.20,85.02 L223.54,85.02 L223.88,85.02 L224.22,85.02 L224.56,85.03 L224.90,85.03 L225.24,85.03 L225.58,85.03 L225.92,85.03 L226.26,85.03 L226.60,85.03 L226.94,85.04 L227.28,85.04 L227.62,85.04 L227.75,85.04" stroke="#00a800" stroke-width="2.4"/>
<path d="M229.99,85.05 L230.00,85.05 L230.34,85.05 L230.67,85.05 L231.01,85.05 L231.35,85.05 L231.69,85.06 L232.03,85.06 L232.37,85.06 L232.71,85.06 L233.05,85.06 L233.16,85.06" stroke="#00a800" stroke-width="2.4"/>
<path d="M235.40,85.07 L235.43,85.07 L235.77,85.07 L236.11,85.07 L236.45,85.08 L236.79,85.08 L237.13,85.08 L237.47,85.08 L237.81,85.08 L238.15,85.08 L238.49,85.08 L238.83,85.09 L239.17,85.09 L239.51,85.09 L239.85,85.09 L240.19,85.09 L240.53,85.09 L240.87,85.09 L241.20,85.09 L241.54,85.10 L241.74,85.10" stroke="#00a800" stroke-width="2.4"/>
<path d="M243.98,85.11 L244.26,85.11 L244.60,85.11 L244.94,85.11 L245.28,85.11 L245.62,85.11 L245.96,85.11 L246.30,85.11 L246.64,85.12 L246.98,85.12 L247.15,85.12" stroke="#00a800" stroke-width="2.4"/>
<path d="M249.39,85.13 L249.70,85.13 L250.04,85.13 L250.38,85.13 L250.72,85.13 L251.06,85.13 L251.40,85.13 L251.74,85.13 L252.07,85.14 L252.41,85.14 L252.75,85.14 L253.09,85.14 L253.43,85.14 L253.77,85.14 L254.11,85.14 L254.45,85.14 L254.79,85.15 L255.13,85.15 L255.47,85.15 L255.73,85.15" stroke="#00a800" stroke-width="2.4"/>
<path d="M257.97,85.16 L258.19,85.16 L258.53,85.16 L258.87,85.16 L259.21,85.16 L259.55,85.16 L259.89,85.16 L260.23,85.16 L260.57,85.16 L260.91,85.17 L261.14,85.17" stroke="#00a800" stroke-width="2.4"/>
<path d="M263.38,85.17 L263.62,85.17 L263.96,85.17 L264.30,85.18 L264.64,85.18 L264.98,85.18 L265.32,85.18 L265.66,85.18 L266.00,85.18 L266.34,85.18 L266.68,85.18 L267.02,85.18 L267.36,85.18 L267.70,85.19 L268.04,85.19 L268.38,85.19 L268.72,85.19 L269.06,85.19 L269.40,85.19 L269.72,85.19" stroke="#00a800" stroke-width="2.4"/>
<path d="M271.96,85.20 L272.12,85.20 L272.46,85.20 L272.80,85.20 L273.14,85.20 L273.47,85.20 L273.81,85.20 L274.15,85.20 L274.49,85.20 L274.83,85.20 L275.13,85.20" stroke="#00a800" stroke-width="2.4"/>
<path d="M277.37,85.21 L277.55,85.21 L277.89,85.21 L278.23,85.21 L278.57,85.21 L278.91,85.21 L279.25,85.21 L279.59,85.21 L279.93,85.22 L280.27,85.22 L280.61,85.22 L280.95,85.22 L281.29,85.22 L281.63,85.22 L281.97,85.22 L282.31,85.22 L282.65,85.22 L282.99,85.22 L283.33,85.22 L283.67,85.22 L283.71,85.22" stroke="#00a800" stroke-width="2.4"/>
<path d="M285.95,85.23 L286.04,85.23 L286.38,85.23 L286.72,85.23 L287.06,85.23 L287.40,85.23 L287.74,85.23 L288.08,85.23 L288.42,85.23 L288.76,85.23 L289.10,85.23 L289.12,85.23" stroke="#00a800" stroke-width="2.4"/>
<path d="M291.36,85.24 L291.48,85.24 L291.82,85.24 L292.16,85.24 L292.50,85.24 L292.84,85.24 L293.18,85.24 L293.52,85.24 L293.86,85.24 L294.20,85.24 L294.54,85.24 L294.88,85.24 L295.21,85.25 L295.55,85.25 L295.89,85.25 L296.23,85.25 L296.57,85.25 L296.91,85.25 L297.25,85.25 L297.59,85.25 L297.70,85.25" stroke="#00a800" stroke-width="2.4"/>
<path d="M299.94,85.25 L299.97,85.25 L300.31,85.25 L300.65,85.25 L300.99,85.25 L301.33,85.26 L301.67,85.26 L302.01,85.26 L302.35,85.26 L302.69,85.26 L303.03,85.26 L303.11,85.26" stroke="#00a800" stroke-width="2.4"/>
<path d="M305.35,85.26 L305.41,85.26 L305.74,85.26 L306.08,85.26 L306.42,85.26 L306.76,85.26 L307.10,85.26 L307.44,85.27 L307.78,85.27 L308.12,85.27 L308.46,85.27 L308.80,85.27 L309.14,85.27 L309.48,85.27 L309.82,85.27 L310.16,85.27 L310.50,85.27 L310.84,85.27 L311.18,85.27 L311.52,85.27 L311.69,85.27" stroke="#00a800" stroke-width="2.4"/>
<path d="M313.93,85.28 L314.24,85.28 L314.58,85.28 L314.92,85.28 L315.26,85.28 L315.60,85.28 L315.94,85.28 L316.28,85.28 L316.61,85.28 L316.95,85.28 L317.10,85.28" stroke="#00a800" stroke-width="2.4"/>
<path d="M319.34,85.29 L319.67,85.29 L320.01,85.29 L320.35,85.29 L320.69,85.29 L321.03,85.29 L321.37,85.29 L321.71,85.29 L322.05,85.29 L322.39,85.29 L322.73,85.29 L323.07,85.29 L323.41,85.29 L323.75,85.29 L324.09,85.29 L324.43,85.29 L324.77,85.29 L325.11,85.30 L325.45,85.30 L325.68,85.30" stroke="#00a800" stroke-width="2.4"/>
<path d="M327.92,85.30 L328.16,85.30 L328.50,85.30 L328.84,85.30 L329.18,85.30 L329.52,85.30 L329.86,85.30 L330.20,85.30 L330.54,85.30 L330.88,85.31 L331.08,85.31" stroke="#00a800" stroke-width="2.4"/>
<path d="M333.33,85.31 L333.60,85.31 L333.94,85.31 L334.28,85.31 L334.62,85.31 L334.96,85.31 L335.30,85.31 L335.64,85.31 L335.98,85.31 L336.32,85.32 L336.66,85.32 L337.00,85.32 L337.34,85.32 L337.68,85.32 L338.01,85.32 L338.35,85.32 L338.69,85.32 L339.03,85.32 L339.37,85.32 L339.66,85.32" stroke="#00a800" stroke-width="2.4"/>
<path d="M341.90,85.33 L342.09,85.33 L342.43,85.33 L342.77,85.33 L343.11,85.33 L343.45,85.33 L343.79,85.33 L344.13,85.33 L344.47,85.33 L344.81,85.33 L345.07,85.33" stroke="#00a800" stroke-width="2.4"/>
<path d="M347.31,85.34 L347.53,85.34 L347.87,85.34 L348.21,85.34 L348.55,85.34 L348.88,85.34 L349.22,85.34 L349.56,85.34 L349.90,85.34 L350.24,85.34 L350.58,85.34 L350.92,85.34 L351.26,85.34 L351.60,85.34 L351.94,85.34 L352.28,85.34 L352.62,85.35 L352.96,85.35 L353.30,85.35 L353.64,85.35 L353.65,85.35" stroke="#00a800" stroke-width="2.4"/>
<path d="M355.89,85.35 L356.02,85.35 L356.36,85.35 L356.70,85.35 L357.04,85.35 L357.38,85.35 L357.72,85.35 L358.06,85.36 L358.40,85.36 L358.74,85.36 L359.06,85.36" stroke="#00a800" stroke-width="2.4"/>
<path d="M361.30,85.36 L361.45,85.36 L361.79,85.36 L362.13,85.36 L362.47,85.36 L362.81,85.36 L363.15,85.36 L363.49,85.37 L363.83,85.37 L364.17,85.37 L364.51,85.37 L364.85,85.37 L365.19,85.37 L365.53,85.37 L365.87,85.37 L366.21,85.37 L366.55,85.37 L366.89,85.37 L367.23,85.37 L367.57,85.37 L367.64,85.37" stroke="#00a800" stroke-width="2.4"/>
<path d="M369.88,85.38 L369.95,85.38 L370.29,85.38 L370.62,85.38 L370.96,85.38 L371.30,85.38 L371.64,85.38 L371.98,85.38 L372.32,85.38 L372.66,85.38 L373.00,85.38 L373.05,85.38" stroke="#00a800" stroke-width="2.4"/>
<path d="M375.29,85.39 L375.38,85.39 L375.72,85.39 L376.06,85.39 L376.40,85.39 L376.74,85.39 L377.08,85.39 L377.42,85.39 L377.76,85.39 L378.10,85.39 L378.44,85.39 L378.78,85.39 L379.12,85.39 L379.46,85.39 L379.80,85.40 L380.14,85.40 L380.48,85.40 L380.82,85.40 L381.15,85.40 L381.49,85.40 L381.63,85.40" stroke="#00a800" stroke-width="2.4"/>
<path d="M80.87,85.90 L81.31,85.86 L81.74,85.76 L82.18,85.67 L82.61,85.57 L83.05,85.48 L83.48,85.38 L83.92,85.29" stroke="#0000ff" stroke-width="1.9"/>
<path d="M85.92,84.89 L86.40,84.79 L86.87,84.70 L87.35,84.62 L87.83,84.53 L88.30,84.44 L88.78,84.36 L89.26,84.28" stroke="#0000ff" stroke-width="1.9"/>
<path d="M91.26,83.95 L91.73,83.87 L92.21,83.80 L92.69,83.73 L93.16,83.66 L93.64,83.59 L94.12,83.52 L94.60,83.46" stroke="#0000ff" stroke-width="1.9"/>
<path d="M96.60,83.19 L97.07,83.14 L97.55,83.08 L98.03,83.03 L98.50,82.99 L98.98,82.94 L99.46,82.89 L99.93,82.84" stroke="#0000ff" stroke-width="1.9"/>
<path d="M101.93,82.66 L102.41,82.63 L102.89,82.61 L103.37,82.60 L103.84,82.60 L104.32,82.60 L104.80,82.60 L105.27,82.60" stroke="#0000ff" stroke-width="1.9"/>
<path d="M107.27,82.61 L107.75,82.62 L108.23,82.62 L108.70,82.62 L109.18,82.63 L109.66,82.63 L110.14,82.64 L110.61,82.64" stroke="#0000ff" stroke-width="1.9"/>
<path d="M112.61,82.67 L113.09,82.67 L113.57,82.68 L114.04,82.69 L114.52,82.70 L115.00,82.70 L115.47,82.72 L115.95,82.73" stroke="#0000ff" stroke-width="1.9"/>
<path d="M117.95,82.84 L118.43,82.87 L118.90,82.91 L119.38,82.94 L119.86,82.98 L120.34,83.01 L120.81,83.05 L121.29,83.09" stroke="#0000ff" stroke-width="1.9"/>
<path d="M123.29,83.22 L123.77,83.25 L124.24,83.28 L124.72,83.31 L125.20,83.35 L125.67,83.38 L126.15,83.41 L126.63,83.44" stroke="#0000ff" stroke-width="1.9"/>
<path d="M128.63,83.58 L129.11,83.61 L129.58,83.64 L130.06,83.67 L130.54,83.70 L131.01,83.73 L131.49,83.76 L131.97,83.79" stroke="#0000ff" stroke-width="1.9"/>
<path d="M133.97,83.90 L134.44,83.93 L134.92,83.96 L135.40,83.98 L135.88,84.00 L136.35,84.03 L136.83,84.05 L137.31,84.08" stroke="#0000ff" stroke-width="1.9"/>
<path d="M139.31,84.17 L139.78,84.20 L140.26,84.22 L140.74,84.24 L141.21,84.26 L141.69,84.28 L142.17,84.30 L142.64,84.32" stroke="#0000ff" stroke-width="1.9"/>
<path d="M144.64,84.39 L145.12,84.41 L145.60,84.43 L146.08,84.44 L146.55,84.46 L147.03,84.48 L147.51,84.49 L147.98,84.51" stroke="#0000ff" stroke-width="1.9"/>
<path d="M149.98,84.57 L150.46,84.58 L150.94,84.60 L151.41,84.61 L151.89,84.62 L152.37,84.63 L152.85,84.65 L153.32,84.66" stroke="#0000ff" stroke-width="1.9"/>
<path d="M155.32,84.69 L155.80,84.70 L156.28,84.71 L156.75,84.71 L157.23,84.72 L157.71,84.73 L158.18,84.73 L158.66,84.74" stroke="#0000ff" stroke-width="1.9"/>
<path d="M160.66,84.76 L161.14,84.77 L161.62,84.77 L162.09,84.78 L162.57,84.78 L163.05,84.78 L163.52,84.79 L164.00,84.79" stroke="#0000ff" stroke-width="1.9"/>
<path d="M166.00,84.81 L166.48,84.82 L166.95,84.82 L167.43,84.82 L167.91,84.83 L168.38,84.83 L168.86,84.84 L169.34,84.84" stroke="#0000ff" stroke-width="1.9"/>
<path d="M171.34,84.85 L171.82,84.86 L172.29,84.86 L172.77,84.86 L173.25,84.86 L173.72,84.87 L174.20,84.87 L174.68,84.87" stroke="#0000ff" stroke-width="1.9"/>
<path d="M176.68,84.88 L177.15,84.89 L177.63,84.89 L178.11,84.89 L178.59,84.89 L179.06,84.89 L179.54,84.90 L180.02,84.90" stroke="#0000ff" stroke-width="1.9"/>
<path d="M182.02,84.91 L182.49,84.91 L182.97,84.91 L183.45,84.91 L183.92,84.91 L184.40,84.92 L184.88,84.92 L185.36,84.92" stroke="#0000ff" stroke-width="1.9"/>
<path d="M187.36,84.92 L187.83,84.93 L188.31,84.93 L188.79,84.93 L189.26,84.93 L189.74,84.93 L190.22,84.93 L190.69,84.93" stroke="#0000ff" stroke-width="1.9"/>
<path d="M192.69,84.94 L193.17,84.94 L193.65,84.94 L194.12,84.94 L194.60,84.94 L195.08,84.95 L195.56,84.95 L196.03,84.95" stroke="#0000ff" stroke-width="1.9"/>
<path d="M198.03,84.95 L198.51,84.95 L198.99,84.95 L199.46,84.96 L199.94,84.96 L200.42,84.96 L200.89,84.96 L201.37,84.96" stroke="#0000ff" stroke-width="1.9"/>
<path d="M203.37,84.96 L203.85,84.96 L204.33,84.97 L204.80,84.97 L205.28,84.97 L205.76,84.97 L206.23,84.97 L206.71,84.97" stroke="#0000ff" stroke-width="1.9"/>
<path d="M208.71,84.97 L209.19,84.98 L209.66,84.98 L210.14,84.98 L210.62,84.98 L211.10,84.98 L211.57,84.98 L212.05,84.98" stroke="#0000ff" stroke-width="1.9"/>
<path d="M214.05,84.99 L214.53,84.99 L215.00,84.99 L215.48,84.99 L215.96,84.99 L216.43,84.99 L216.91,85.00 L217.39,85.00" stroke="#0000ff" stroke-width="1.9"/>
<path d="M219.39,85.00 L219.86,85.00 L220.34,85.01 L220.82,85.01 L221.30,85.01 L221.77,85.01 L222.25,85.01 L222.73,85.01" stroke="#0000ff" stroke-width="1.9"/>
<path d="M224.73,85.02 L225.20,85.02 L225.68,85.02 L226.16,85.03 L226.63,85.03 L227.11,85.03 L227.59,85.03 L228.07,85.03" stroke="#0000ff" stroke-width="1.9"/>
<path d="M230.07,85.04 L230.54,85.04 L231.02,85.04 L231.50,85.05 L231.97,85.05 L232.45,85.05 L232.93,85.05 L233.40,85.05" stroke="#0000ff" stroke-width="1.9"/>
<path d="M235.40,85.06 L235.88,85.06 L236.36,85.06 L236.84,85.07 L237.31,85.07 L237.79,85.07 L238.27,85.07 L238.74,85.07" stroke="#0000ff" stroke-width="1.9"/>
<path d="M240.74,85.08 L241.22,85.08 L241.70,85.09 L242.17,85.09 L242.65,85.09 L243.13,85.09 L243.60,85.09 L244.08,85.10" stroke="#0000ff" stroke-width="1.9"/>
<path d="M246.08,85.10 L246.56,85.11 L247.04,85.11 L247.51,85.11 L247.99,85.11 L248.47,85.11 L248.94,85.12 L249.42,85.12" stroke="#0000ff" stroke-width="1.9"/>
<path d="M251.42,85.13 L251.90,85.13 L252.37,85.13 L252.85,85.13 L253.33,85.13 L253.81,85.14 L254.28,85.14 L254.76,85.14" stroke="#0000ff" stroke-width="1.9"/>
<path d="M256.76,85.15 L257.24,85.15 L257.71,85.15 L258.19,85.15 L258.67,85.15 L259.14,85.16 L259.62,85.16 L260.10,85.16" stroke="#0000ff" stroke-width="1.9"/>
<path d="M262.10,85.17 L262.58,85.17 L263.05,85.17 L263.53,85.17 L264.01,85.17 L264.48,85.17 L264.96,85.18 L265.44,85.18" stroke="#0000ff" stroke-width="1.9"/>
<path d="M267.44,85.18 L267.91,85.19 L268.39,85.19 L268.87,85.19 L269.35,85.19 L269.82,85.19 L270.30,85.19 L270.78,85.19" stroke="#0000ff" stroke-width="1.9"/>
<path d="M272.78,85.20 L273.25,85.20 L273.73,85.20 L274.21,85.20 L274.68,85.20 L275.16,85.20 L275.64,85.21 L276.11,85.21" stroke="#0000ff" stroke-width="1.9"/>
<path d="M278.11,85.21 L278.59,85.21 L279.07,85.21 L279.55,85.21 L280.02,85.22 L280.50,85.22 L280.98,85.22 L281.45,85.22" stroke="#0000ff" stroke-width="1.9"/>
<path d="M283.45,85.22 L283.93,85.22 L284.41,85.22 L284.88,85.23 L285.36,85.23 L285.84,85.23 L286.32,85.23 L286.79,85.23" stroke="#0000ff" stroke-width="1.9"/>
<path d="M288.79,85.23 L289.27,85.23 L289.75,85.24 L290.22,85.24 L290.70,85.24 L291.18,85.24 L291.65,85.24 L292.13,85.24" stroke="#0000ff" stroke-width="1.9"/>
<path d="M294.13,85.24 L294.61,85.24 L295.09,85.24 L295.56,85.25 L296.04,85.25 L296.52,85.25 L296.99,85.25 L297.47,85.25" stroke="#0000ff" stroke-width="1.9"/>
<path d="M299.47,85.25 L299.95,85.25 L300.42,85.25 L300.90,85.25 L301.38,85.26 L301.85,85.26 L302.33,85.26 L302.81,85.26" stroke="#0000ff" stroke-width="1.9"/>
<path d="M304.81,85.26 L305.29,85.26 L305.76,85.26 L306.24,85.26 L306.72,85.26 L307.19,85.27 L307.67,85.27 L308.15,85.27" stroke="#0000ff" stroke-width="1.9"/>
<path d="M310.15,85.27 L310.62,85.27 L311.10,85.27 L311.58,85.27 L312.06,85.27 L312.53,85.27 L313.01,85.27 L313.49,85.28" stroke="#0000ff" stroke-width="1.9"/>
<path d="M315.49,85.28 L315.96,85.28 L316.44,85.28 L316.92,85.28 L317.39,85.28 L317.87,85.28 L318.35,85.28 L318.83,85.28" stroke="#0000ff" stroke-width="1.9"/>
<path d="M320.83,85.29 L321.30,85.29 L321.78,85.29 L322.26,85.29 L322.73,85.29 L323.21,85.29 L323.69,85.29 L324.16,85.29" stroke="#0000ff" stroke-width="1.9"/>
<path d="M326.16,85.30 L326.64,85.30 L327.12,85.30 L327.59,85.30 L328.07,85.30 L328.55,85.30 L329.03,85.30 L329.50,85.30" stroke="#0000ff" stroke-width="1.9"/>
<path d="M331.50,85.31 L331.98,85.31 L332.46,85.31 L332.93,85.31 L333.41,85.31 L333.89,85.31 L334.36,85.31 L334.84,85.31" stroke="#0000ff" stroke-width="1.9"/>
<path d="M336.84,85.32 L337.32,85.32 L337.80,85.32 L338.27,85.32 L338.75,85.32 L339.23,85.32 L339.70,85.32 L340.18,85.32" stroke="#0000ff" stroke-width="1.9"/>
<path d="M342.18,85.33 L342.66,85.33 L343.13,85.33 L343.61,85.33 L344.09,85.33 L344.57,85.33 L345.04,85.33 L345.52,85.33" stroke="#0000ff" stroke-width="1.9"/>
<path d="M347.52,85.34 L348.00,85.34 L348.47,85.34 L348.95,85.34 L349.43,85.34 L349.90,85.34 L350.38,85.34 L350.86,85.34" stroke="#0000ff" stroke-width="1.9"/>
<path d="M352.86,85.35 L353.33,85.35 L353.81,85.35 L354.29,85.35 L354.77,85.35 L355.24,85.35 L355.72,85.35 L356.20,85.35" stroke="#0000ff" stroke-width="1.9"/>
<path d="M358.20,85.36 L358.67,85.36 L359.15,85.36 L359.63,85.36 L360.10,85.36 L360.58,85.36 L361.06,85.36 L361.54,85.36" stroke="#0000ff" stroke-width="1.9"/>
<path d="M363.54,85.37 L364.01,85.37 L364.49,85.37 L364.97,85.37 L365.44,85.37 L365.92,85.37 L366.40,85.37 L366.87,85.37" stroke="#0000ff" stroke-width="1.9"/>
<path d="M368.87,85.38 L369.35,85.38 L369.83,85.38 L370.31,85.38 L370.78,85.38 L371.26,85.38 L371.74,85.38 L372.21,85.38" stroke="#0000ff" stroke-width="1.9"/>
<path d="M374.21,85.38 L374.69,85.39 L375.17,85.39 L375.64,85.39 L376.12,85.39 L376.60,85.39 L377.07,85.39 L377.55,85.39" stroke="#0000ff" stroke-width="1.9"/>
<path d="M379.55,85.39 L379.98,85.40 L380.40,85.40 L380.82,85.40 L381.24,85.40 L381.67,85.40 L382.09,85.40 L382.51,85.40" stroke="#0000ff" stroke-width="1.9"/>
</g>
<g stroke="#998c3d" stroke-width="1" fill="none"><line x1="150.1" x2="150.1" y1="160.5" y2="172.5" stroke-width="1.25"/><line x1="146.6" x2="153.6" y1="160.5" y2="160.5"/><line x1="146.6" x2="153.6" y1="172.5" y2="172.5"/></g>
<path d="M150.1,163.0 L156.4,167.3 L150.1,171.6 L143.8,167.3Z" fill="#998c3d"/>
<g stroke="#3d9957" stroke-width="1" fill="none"><line x1="150.2" x2="150.2" y1="162.7" y2="173.39999999999998" stroke-width="1.25"/><line x1="147.2" x2="153.2" y1="162.7" y2="162.7"/><line x1="147.2" x2="153.2" y1="173.39999999999998" y2="173.39999999999998"/></g>
<path d="M150.4,161.4 L152.4,166.6 L157.2,168.0 L153.6,169.3 L157.2,170.6 L152.8,171.5 L153.9,172.6 L153.9,173.9 L146.4,173.9 L146.4,172.6 L147.7,171.5 L142.8,170.6 L146.9,169.3 L142.8,168.0 L148.2,166.6Z" fill="#3d9957"/>
<g stroke="#3d3d99" stroke-width="1" fill="none"><line x1="176.2" x2="176.2" y1="107.3" y2="115.9" stroke-width="1.25"/><line x1="172.95" x2="179.45" y1="107.3" y2="107.3"/><line x1="172.95" x2="179.45" y1="115.9" y2="115.9"/></g>
<ellipse cx="176.2" cy="112.5" rx="6.15" ry="3.3" fill="#3d3d99"/>
<g stroke="#3d3d99" stroke-width="1" fill="none"><line x1="187.5" x2="187.5" y1="105.0" y2="111.80000000000001" stroke-width="1.25"/><line x1="184.25" x2="190.75" y1="105.0" y2="105.0"/><line x1="184.25" x2="190.75" y1="111.80000000000001" y2="111.80000000000001"/></g>
<ellipse cx="187.5" cy="108.4" rx="6.15" ry="3.3" fill="#3d3d99"/>
<g stroke="#3d3d99" stroke-width="1" fill="none"><line x1="197.9" x2="197.9" y1="87.8" y2="99.39999999999999" stroke-width="1.25"/><line x1="194.65" x2="201.15" y1="87.8" y2="87.8"/><line x1="194.65" x2="201.15" y1="99.39999999999999" y2="99.39999999999999"/></g>
<ellipse cx="197.9" cy="94.8" rx="6.15" ry="3.3" fill="#3d3d99"/>
<g stroke="#3d3d99" stroke-width="1" fill="none"><line x1="211.2" x2="211.2" y1="82.7" y2="92.30000000000001" stroke-width="1.25"/><line x1="207.95" x2="214.45" y1="82.7" y2="82.7"/><line x1="207.95" x2="214.45" y1="92.30000000000001" y2="92.30000000000001"/></g>
<ellipse cx="211.2" cy="88.4" rx="6.15" ry="3.3" fill="#3d3d99"/>
<g stroke="#3d3d99" stroke-width="1" fill="none"><line x1="235.3" x2="235.3" y1="77.3" y2="87.3" stroke-width="1.25"/><line x1="232.05" x2="238.55" y1="77.3" y2="77.3"/><line x1="232.05" x2="238.55" y1="87.3" y2="87.3"/></g>
<ellipse cx="235.3" cy="83.2" rx="6.15" ry="3.3" fill="#3d3d99"/>
<g stroke="#3d3d99" stroke-width="1" fill="none"><line x1="314.1" x2="314.1" y1="65.3" y2="69.7" stroke-width="1.25"/><line x1="310.85" x2="317.35" y1="65.3" y2="65.3"/><line x1="310.85" x2="317.35" y1="69.7" y2="69.7"/></g>
<ellipse cx="314.1" cy="69.7" rx="6.15" ry="3.3" fill="#3d3d99"/>
<ellipse cx="345.8" cy="69.3" rx="6.15" ry="3.3" fill="#3d3d99"/>
<ellipse cx="383.3" cy="74.4" rx="6.15" ry="3.3" fill="#3d3d99"/>
<ellipse cx="429" cy="79.3" rx="6.15" ry="3.3" fill="#3d3d99"/>
<ellipse cx="482.2" cy="81.9" rx="6.15" ry="3.3" fill="#3d3d99"/>
<ellipse cx="547.8" cy="85.9" rx="6.15" ry="3.3" fill="#3d3d99"/>
<g stroke="#993d71" stroke-width="1" fill="none"><line x1="176.6" x2="176.6" y1="113.30000000000001" y2="143.3" stroke-width="1.25"/><line x1="173.35" x2="179.85" y1="113.30000000000001" y2="113.30000000000001"/><line x1="173.35" x2="179.85" y1="143.3" y2="143.3"/></g>
<rect x="171.6" y="125.60000000000001" width="10" height="5.4" fill="#993d71"/>
<g stroke="#993d71" stroke-width="1" fill="none"><line x1="181.1" x2="181.1" y1="110.1" y2="119.5" stroke-width="1.25"/><line x1="177.85" x2="184.35" y1="110.1" y2="110.1"/><line x1="177.85" x2="184.35" y1="119.5" y2="119.5"/></g>
<rect x="176.1" y="112.1" width="10" height="5.4" fill="#993d71"/>
<g stroke="#993d71" stroke-width="1" fill="none"><line x1="186.2" x2="186.2" y1="98.60000000000001" y2="109.8" stroke-width="1.25"/><line x1="182.95" x2="189.45" y1="98.60000000000001" y2="98.60000000000001"/><line x1="182.95" x2="189.45" y1="109.8" y2="109.8"/></g>
<rect x="181.2" y="101.5" width="10" height="5.4" fill="#993d71"/>
<g stroke="#993d71" stroke-width="1" fill="none"><line x1="191.0" x2="191.0" y1="98.60000000000001" y2="109.8" stroke-width="1.25"/><line x1="187.75" x2="194.25" y1="98.60000000000001" y2="98.60000000000001"/><line x1="187.75" x2="194.25" y1="109.8" y2="109.8"/></g>
<rect x="186.0" y="101.5" width="10" height="5.4" fill="#993d71"/>
<g stroke="#993d71" stroke-width="1" fill="none"><line x1="195.8" x2="195.8" y1="88.7" y2="101.10000000000001" stroke-width="1.25"/><line x1="192.55" x2="199.05" y1="88.7" y2="88.7"/><line x1="192.55" x2="199.05" y1="101.10000000000001" y2="101.10000000000001"/></g>
<rect x="190.8" y="92.2" width="10" height="5.4" fill="#993d71"/>
<g stroke="#993d71" stroke-width="1" fill="none"><line x1="200.6" x2="200.6" y1="75.69999999999999" y2="88.69999999999999" stroke-width="1.25"/><line x1="197.35" x2="203.85" y1="75.69999999999999" y2="75.69999999999999"/><line x1="197.35" x2="203.85" y1="88.69999999999999" y2="88.69999999999999"/></g>
<rect x="195.6" y="80.39999999999999" width="10" height="5.4" fill="#993d71"/>
<g stroke="#993d71" stroke-width="1" fill="none"><line x1="205.6" x2="205.6" y1="73.7" y2="89.7" stroke-width="1.25"/><line x1="202.35" x2="208.85" y1="73.7" y2="73.7"/><line x1="202.35" x2="208.85" y1="89.7" y2="89.7"/></g>
<rect x="200.6" y="79.0" width="10" height="5.4" fill="#993d71"/>
<g stroke="#000" fill="none">
<line x1="141.25" x2="147.85" y1="182.40" y2="182.40" stroke-width="1.05"/>
<line x1="700.5" x2="693.9" y1="182.40" y2="182.40" stroke-width="1.05"/>
<line x1="141.25" x2="147.85" y1="168.60" y2="168.60" stroke-width="1.05"/>
<line x1="700.5" x2="693.9" y1="168.60" y2="168.60" stroke-width="1.05"/>
<line x1="141.25" x2="147.85" y1="154.80" y2="154.80" stroke-width="1.05"/>
<line x1="700.5" x2="693.9" y1="154.80" y2="154.80" stroke-width="1.05"/>
<line x1="141.25" x2="147.85" y1="141.00" y2="141.00" stroke-width="1.05"/>
<line x1="700.5" x2="693.9" y1="141.00" y2="141.00" stroke-width="1.05"/>
<line x1="141.25" x2="147.85" y1="127.20" y2="127.20" stroke-width="1.05"/>
<line x1="700.5" x2="693.9" y1="127.20" y2="127.20" stroke-width="1.05"/>
<line x1="141.25" x2="147.85" y1="113.40" y2="113.40" stroke-width="1.05"/>
<line x1="700.5" x2="693.9" y1="113.40" y2="113.40" stroke-width="1.05"/>
<line x1="141.25" x2="147.85" y1="99.60" y2="99.60" stroke-width="1.05"/>
<line x1="700.5" x2="693.9" y1="99.60" y2="99.60" stroke-width="1.05"/>
<line x1="141.25" x2="147.85" y1="85.80" y2="85.80" stroke-width="1.05"/>
<line x1="700.5" x2="693.9" y1="85.80" y2="85.80" stroke-width="1.05"/>
<line x1="141.25" x2="147.85" y1="72.00" y2="72.00" stroke-width="1.05"/>
<line x1="700.5" x2="693.9" y1="72.00" y2="72.00" stroke-width="1.05"/>
<line x1="141.25" x2="147.85" y1="58.20" y2="58.20" stroke-width="1.05"/>
<line x1="700.5" x2="693.9" y1="58.20" y2="58.20" stroke-width="1.05"/>
<line x1="141.25" x2="147.85" y1="44.40" y2="44.40" stroke-width="1.05"/>
<line x1="700.5" x2="693.9" y1="44.40" y2="44.40" stroke-width="1.05"/>
<line x1="141.25" x2="147.85" y1="30.60" y2="30.60" stroke-width="1.05"/>
<line x1="700.5" x2="693.9" y1="30.60" y2="30.60" stroke-width="1.05"/>
<line x1="149.80" x2="149.80" y1="23.55" y2="27.05" stroke-width="1.7"/>
<line x1="149.80" x2="149.80" y1="189.2" y2="185.7" stroke-width="1.7"/>
<line x1="192.14" x2="192.14" y1="23.55" y2="27.05" stroke-width="1.7"/>
<line x1="192.14" x2="192.14" y1="189.2" y2="185.7" stroke-width="1.7"/>
<line x1="234.48" x2="234.48" y1="23.55" y2="27.05" stroke-width="1.7"/>
<line x1="234.48" x2="234.48" y1="189.2" y2="185.7" stroke-width="1.7"/>
<line x1="276.82" x2="276.82" y1="23.55" y2="27.05" stroke-width="1.7"/>
<line x1="276.82" x2="276.82" y1="189.2" y2="185.7" stroke-width="1.7"/>
<line x1="319.16" x2="319.16" y1="23.55" y2="27.05" stroke-width="1.7"/>
<line x1="319.16" x2="319.16" y1="189.2" y2="185.7" stroke-width="1.7"/>
<line x1="361.50" x2="361.50" y1="23.55" y2="27.05" stroke-width="1.7"/>
<line x1="361.50" x2="361.50" y1="189.2" y2="185.7" stroke-width="1.7"/>
<line x1="403.84" x2="403.84" y1="23.55" y2="27.05" stroke-width="1.7"/>
<line x1="403.84" x2="403.84" y1="189.2" y2="185.7" stroke-width="1.7"/>
<line x1="446.18" x2="446.18" y1="23.55" y2="27.05" stroke-width="1.7"/>
<line x1="446.18" x2="446.18" y1="189.2" y2="185.7" stroke-width="1.7"/>
<line x1="488.52" x2="488.52" y1="23.55" y2="27.05" stroke-width="1.7"/>
<line x1="488.52" x2="488.52" y1="189.2" y2="185.7" stroke-width="1.7"/>
<line x1="530.86" x2="530.86" y1="23.55" y2="27.05" stroke-width="1.7"/>
<line x1="530.86" x2="530.86" y1="189.2" y2="185.7" stroke-width="1.7"/>
<line x1="573.20" x2="573.20" y1="23.55" y2="27.05" stroke-width="1.7"/>
<line x1="573.20" x2="573.20" y1="189.2" y2="185.7" stroke-width="1.7"/>
<line x1="615.54" x2="615.54" y1="23.55" y2="27.05" stroke-width="1.7"/>
<line x1="615.54" x2="615.54" y1="189.2" y2="185.7" stroke-width="1.7"/>
<line x1="657.88" x2="657.88" y1="23.55" y2="27.05" stroke-width="1.7"/>
<line x1="657.88" x2="657.88" y1="189.2" y2="185.7" stroke-width="1.7"/>
<line x1="140.25" x2="701.5" y1="23.55" y2="23.55" stroke-width="1.1"/>
<line x1="140.25" x2="701.5" y1="189.2" y2="189.2" stroke-width="1.1"/>
<line x1="141.25" x2="141.25" y1="23.55" y2="189.2" stroke-width="2"/>
<line x1="700.5" x2="700.5" y1="23.55" y2="189.2" stroke-width="2"/>
</g>
<defs><clipPath id="c1"><path d="M-5,-20 H15 V-2.4 H5.7 V1 H3.95 V-2.4 H-5Z"/></clipPath></defs>
<g font-family="Liberation Sans, sans-serif" fill="#000" opacity="0.999">
<text transform="translate(134.8,36.8) scale(2.2,1)" font-size="16" text-anchor="end" >0.4</text>
<text transform="translate(134.8,64.39999999999999) scale(2.2,1)" font-size="16" text-anchor="end" >0.2</text>
<text transform="translate(134.8,92.0) scale(2.2,1)" font-size="16" text-anchor="end" >0.0</text>
<text transform="translate(134.8,119.60000000000001) scale(2.2,1)" font-size="16" text-anchor="end" >0.2</text>
<text transform="translate(64.68,118.56) scale(3.162,1)" font-size="11" >−</text>
<text transform="translate(134.8,147.2) scale(2.2,1)" font-size="16" text-anchor="end" >0.4</text>
<text transform="translate(64.68,146.16) scale(3.162,1)" font-size="11" >−</text>
<text transform="translate(134.8,174.79999999999998) scale(2.2,1)" font-size="16" text-anchor="end" >0.6</text>
<text transform="translate(64.68,173.76) scale(3.162,1)" font-size="11" >−</text>
<text transform="translate(149.5,208.4) scale(2.2,1)" font-size="16" text-anchor="middle" >0</text>
<text transform="translate(223.67,208.2) scale(2.55,1)" font-size="16.3" clip-path="url(#c1)">1</text>
<text transform="translate(318.86,208.4) scale(2.2,1)" font-size="16" text-anchor="middle" >2</text>
<text transform="translate(403.54,208.4) scale(2.2,1)" font-size="16" text-anchor="middle" >3</text>
<text transform="translate(488.22,208.4) scale(2.2,1)" font-size="16" text-anchor="middle" >4</text>
<text transform="translate(572.9000000000001,208.4) scale(2.2,1)" font-size="16" text-anchor="middle" >5</text>
<text transform="translate(657.5800000000002,208.4) scale(2.2,1)" font-size="16" text-anchor="middle" >6</text>
<text transform="translate(344.86,236.2) scale(1.851,1)" font-size="16.5" >x</text>
<text transform="translate(362.87,238.0) scale(2.635,1)" font-size="15" fill="#222">=</text>
<text transform="translate(387.16,236.3) scale(2.265,1)" font-size="16.5" font-style="italic" >Q</text>
<text transform="translate(417.12,228.0) scale(2.140,1)" font-size="11.9" >2</text>
<text transform="translate(433.9,238.4) skewX(-16) scale(1.15,1)" font-size="20">/</text>
<text transform="translate(450.65,235.9) scale(1.963,1)" font-size="16.8" font-style="italic" >m</text>
<text transform="translate(481.05,228.0) scale(2.250,1)" font-size="11.9" >2</text>
<text transform="translate(478.42,241.0) scale(1.927,1)" font-size="13.2" font-style="italic" >N</text>
<text transform="translate(34.0,121.2) scale(2.16,1) rotate(-90)" font-size="17.3" font-style="italic" >F</text>
<text transform="translate(24.9,107.8) scale(2.06,1) rotate(-90)" font-size="13" >*</text>
<text transform="translate(43.8,111.2) scale(2.16,1) rotate(-90)" font-size="12.5" >2</text>
<text transform="translate(43.8,104.0) scale(2.16,1) rotate(-90)" font-size="12.5" >,</text>
<text transform="translate(43.6,99.9) scale(1.96,1) rotate(-90)" font-size="13.5" font-style="italic" >p</text>
</g>
</svg></body></html>
